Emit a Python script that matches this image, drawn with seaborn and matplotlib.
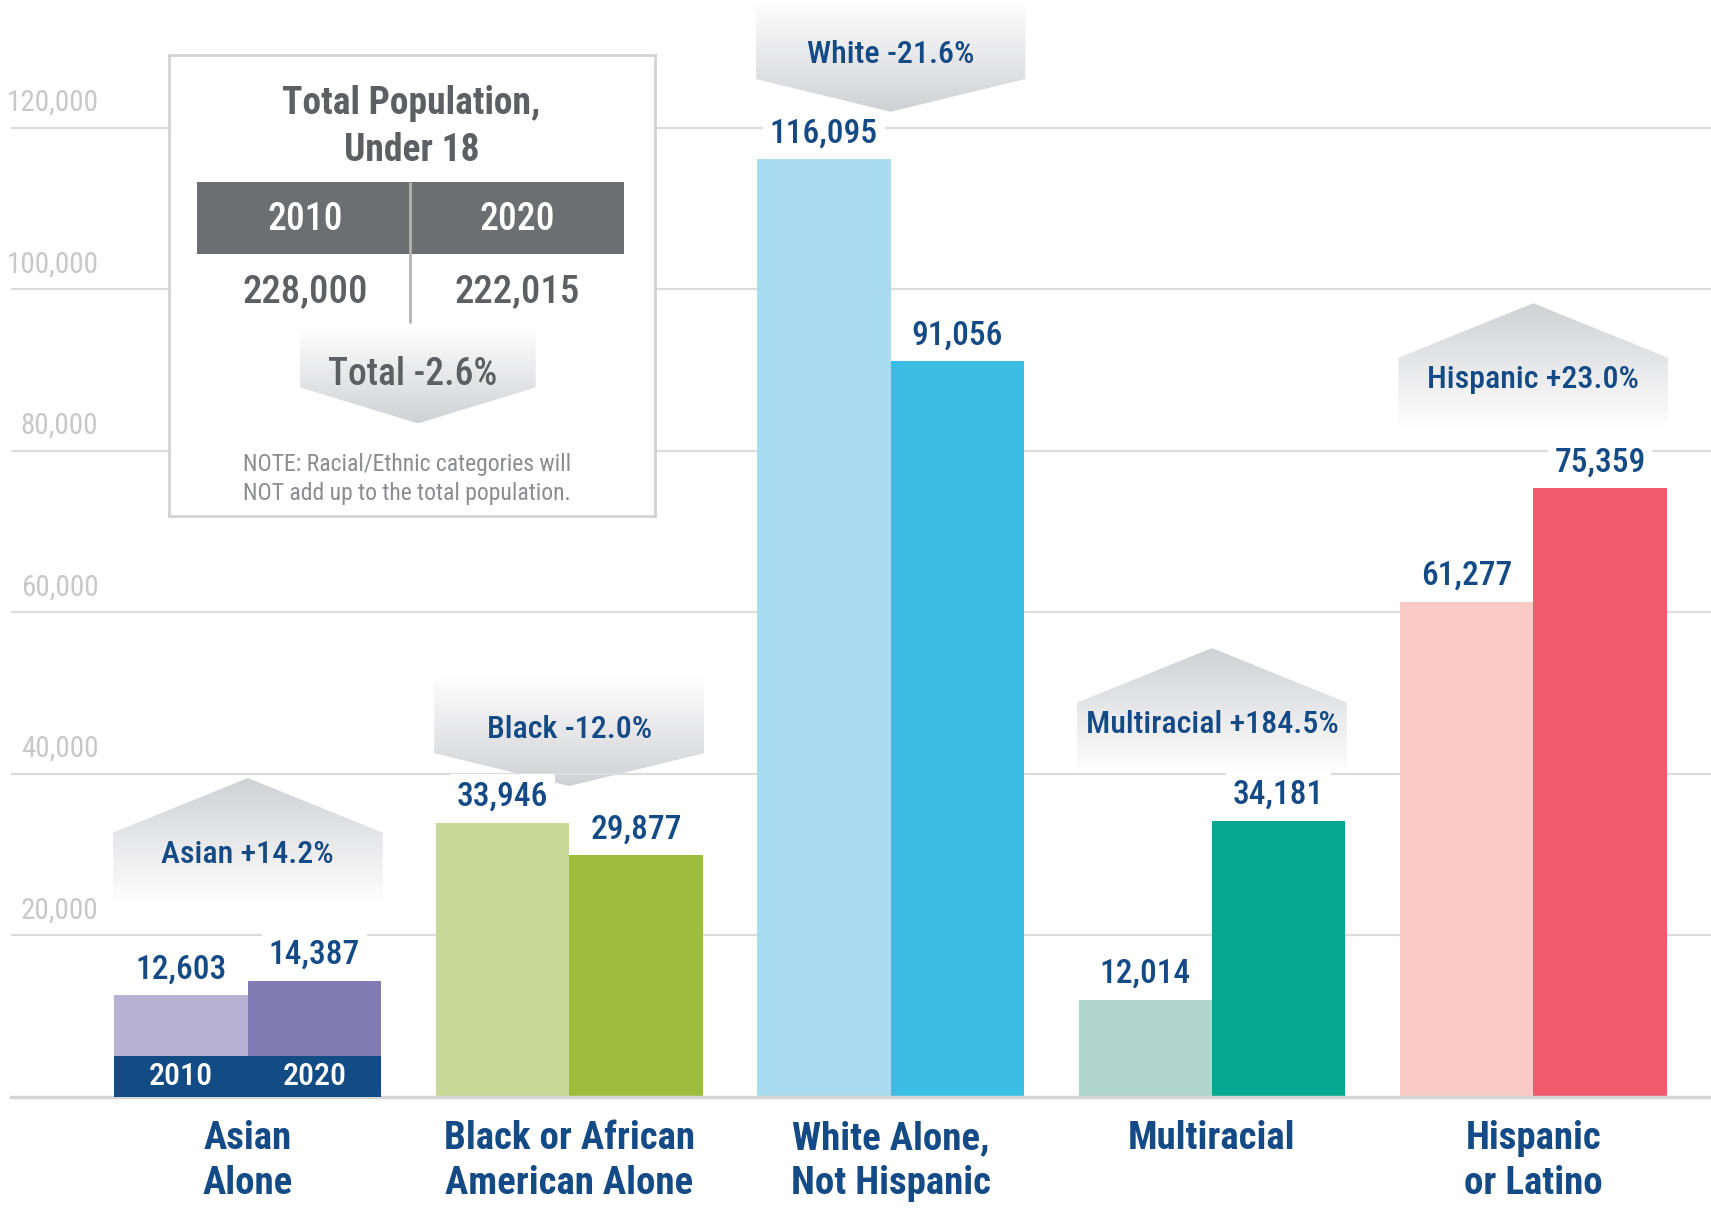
import numpy as np
import pandas as pd
import seaborn as sns
import matplotlib.pyplot as plt
from matplotlib import font_manager
from matplotlib.colors import to_rgb
from matplotlib.patches import Polygon, Rectangle

# data
categories = ["Asian\nAlone", "Black or African\nAmerican Alone", "White Alone,\nNot Hispanic",
              "Multiracial", "Hispanic\nor Latino"]
years = ["2010", "2020"]
pop_2010 = [12603, 33946, 116095, 12014, 61277]
pop_2020 = [14387, 29877, 91056, 34181, 75359]
change_labels = ["Asian +14.2%", "Black -12.0%", "White -21.6%", "Multiracial +184.5%", "Hispanic +23.0%"]
change_pct = [14.2, -12.0, -21.6, 184.5, 23.0]
yticks = [20000, 40000, 60000, 80000, 100000, 120000]
total_pop = [228000, 222015]
total_change = "Total -2.6%"
box_title = "Total Population,\nUnder 18"
box_note = "NOTE: Racial/Ethnic categories will\nNOT add up to the total population."

colors_2010 = ["#b7b2d4", "#c9d997", "#a8dbef", "#b0d5ca", "#f9c9c5"]
colors_2020 = ["#837bb3", "#9dbd3d", "#39bde3", "#05a88e", "#f15b6d"]
BLUE = "#144a85"
NAVY = "#134b85"
GRAY_TXT = "#5e5f62"
BADGE_GRAY = to_rgb("#d0d1d4")

# where the change badges sit (text centre, in data units)
badge_y = [30000, 45500, 129000, 46100, 88800]

sns.set_style("white")
available = {f.name for f in font_manager.fontManager.ttflist}
narrow = next((f for f in ["Roboto Condensed", "Liberation Sans Narrow", "DejaVu Sans Condensed",
                           "Liberation Sans"] if f in available), "DejaVu Sans")
plt.rcParams["font.family"] = [narrow, "DejaVu Sans"]


def draw_badge(a, cx, hw, y_flat, y_sh, y_tip, z=1):
    """Pentagon arrow with a white -> gray gradient toward the tip."""
    pts = [(cx - hw, y_flat), (cx - hw, y_sh), (cx, y_tip), (cx + hw, y_sh), (cx + hw, y_flat)]
    poly = Polygon(pts, closed=True, facecolor="none", edgecolor="none", transform=a.transData)
    a.add_patch(poly)
    t = np.linspace(0, 1, 256)[:, None]
    grad = (1 - t)[..., None] * np.ones(3) + t[..., None] * np.array(BADGE_GRAY)
    im = a.imshow(grad, extent=(cx - hw, cx + hw, y_flat, y_tip), origin="lower",
                  aspect="auto", zorder=z, interpolation="bilinear")
    im.set_clip_path(poly)


fig = plt.figure(figsize=(17.11, 12.09), dpi=100)
ax = fig.add_axes([0.0064, 0.0929, 0.9936, 0.9071])

df = pd.DataFrame({
    "group": categories * 2,
    "year": [years[0]] * len(categories) + [years[1]] * len(categories),
    "value": pop_2010 + pop_2020,
})
sns.barplot(data=df, x="group", y="value", hue="year", order=categories, hue_order=years,
            width=0.83, saturation=1, errorbar=None, legend=False, ax=ax, zorder=2)

for container, cols, vals in zip(ax.containers, [colors_2010, colors_2020], [pop_2010, pop_2020]):
    for bar, c in zip(container, cols):
        bar.set_facecolor(c)
        bar.set_edgecolor("none")
    ax.bar_label(container, labels=[f"{v:,}" for v in vals], padding=7, fontsize=24,
                 fontweight="medium", color=BLUE, zorder=4,
                 bbox=dict(boxstyle="square,pad=0.2", facecolor="white", edgecolor="none"))

# year key inside the Asian bars
half = 0.83 / 2
ax.add_patch(Rectangle((-half, 0), 0.83, 5100, facecolor=NAVY, edgecolor="none", zorder=3))
for k, yr in enumerate(years):
    ax.text((k - 0.5) * half, 2550, yr, ha="center", va="center", fontsize=23,
            fontweight="medium", color="white", zorder=4)

# change badges
for i, (lab, pct, yb) in enumerate(zip(change_labels, change_pct, badge_y)):
    if pct > 0:
        draw_badge(ax, i, 0.42, yb - 6080, yb + 2700, yb + 9460)
    else:
        draw_badge(ax, i, 0.42, yb + 6760, yb - 2970, yb - 7030)
    ax.text(i, yb, lab, ha="center", va="center", fontsize=23, fontweight="medium",
            color=BLUE, zorder=3)

# grid and axis labels
ax.set_yticks(yticks)
ax.set_yticklabels([])
ax.tick_params(axis="y", length=0)
ax.yaxis.grid(True, color="#dcdcdc", linewidth=1.6)
ax.set_axisbelow("line")
for v in yticks:
    ax.annotate(f"{v:,}", xy=(-0.465, v), xytext=(0, 18), textcoords="offset points",
                ha="right", va="center", fontsize=21, color="#c8c8c8")

ax.set_xticks(range(len(categories)))
ax.set_xticklabels(categories, fontsize=28, fontweight="bold", color=BLUE, linespacing=1.28)
ax.tick_params(axis="x", length=0, pad=17)
ax.set_xlabel("")
ax.set_ylabel("")
for s in ["top", "left", "right"]:
    ax.spines[s].set_visible(False)
ax.spines["bottom"].set_color("#d5d5d5")
ax.spines["bottom"].set_linewidth(2.5)
ax.set_xlim(-0.737, 4.553)
ax.set_ylim(0, 135811)

# total population inset
ins = fig.add_axes([0.0988, 0.5731, 0.2838, 0.3817], facecolor="white")
ins.set_zorder(5)
for s in ins.spines.values():
    s.set_color("#d3d3d3")
    s.set_linewidth(2)
ins.set_xticks([])
ins.set_yticks([])

ins.text(377, 116, box_title, ha="center", va="center", fontsize=27, fontweight="bold",
         color=GRAY_TXT, linespacing=1.35)
ins.add_patch(Rectangle((181, 167), 391, 66, facecolor="#6d6e71", edgecolor="none"))
ins.vlines(376, 167, 296, color="#b3b3b3", linewidth=2, zorder=3)
for xc, yr, tot in zip([280, 474], years, total_pop):
    ins.text(xc, 201, yr, ha="center", va="center", fontsize=27, fontweight="medium",
             color="white", zorder=4)
    ins.text(xc, 267, f"{tot:,}", ha="center", va="center", fontsize=28, fontweight="medium",
             color=GRAY_TXT)
draw_badge(ins, 383, 108, 300, 355, 388)
ins.text(378, 343, total_change, ha="center", va="center", fontsize=27, fontweight="medium",
         color=GRAY_TXT, zorder=3)
ins.text(373, 439, box_note, ha="center", va="center", fontsize=17, color="#8b8c8e",
         linespacing=1.35)
ins.set_xlim(155, 600)
ins.set_ylim(473, 50)

fig.savefig("out.png", dpi=100)
